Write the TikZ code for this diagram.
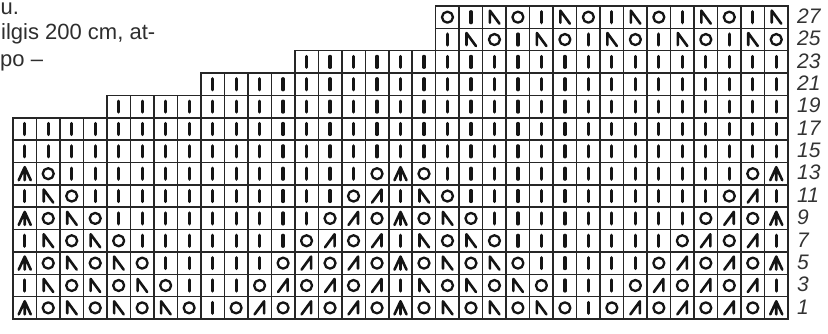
\documentclass[tikz,border=0pt]{standalone}
\usepackage{fontspec}
\setmainfont{Liberation Sans}
\def\cw{23.485}
\def\rh{22.36}
\tikzset{
  gridline/.style={line width=1.5pt, draw=black!85},
  sym/.style={line width=2.6pt, draw=black!92, line cap=round, line join=round},
  lab/.style={anchor=west, inner sep=0pt, font=\fontsize{21}{23}\selectfont\itshape, text=black!80},
  txt/.style={anchor=base west, inner sep=0pt, font=\fontsize{22}{26}\selectfont, text=black!82},
}
\newcommand\stitchK{\draw[sym, line width=3.2pt] (0,-5.5) -- (0,5.5);}
\newcommand\stitchO{\draw[sym, line width=2.3pt] (0,0) circle (5.5pt);}
\newcommand\stitchL{\draw[sym] (-4.5,5.5) -- (-4.5,-6.5) -- (5,6.5);}
\newcommand\stitchR{\draw[sym] (4.5,5.5) -- (4.5,-6.5) -- (-5,6.5);}
\newcommand\stitchC{\draw[sym] (-6,6.5) -- (0,-6.5) -- (6,6.5) (0,-6.5) -- (0,6.5);}
% #1 = row index from bottom (0..13), #2 = first column, #3 = stitch list
\newcommand\knitrow[3]{%
  \foreach \s [count=\i from #2] in {#3} {%
    \pgfmathsetmacro\xa{13+(\i-1)*\cw}%
    \pgfmathsetmacro\ya{6+(13-#1)*\rh}%
    \draw[gridline] (\xa,\ya) rectangle ++(\cw,\rh);%
    \begin{scope}[shift={(\xa+0.5*\cw,\ya+0.5*\rh)}]\csname stitch\s\endcsname\end{scope}%
  }%
}
% #1 = row index, #2 = first column, #3 = last column (all knit)
\newcommand\plainrow[3]{%
  \foreach \i in {#2,...,#3} {%
    \pgfmathsetmacro\xa{13+(\i-1)*\cw}%
    \pgfmathsetmacro\ya{6+(13-#1)*\rh}%
    \draw[gridline] (\xa,\ya) rectangle ++(\cw,\rh);%
    \begin{scope}[shift={(\xa+0.5*\cw,\ya+0.5*\rh)}]\stitchK\end{scope}%
  }%
}
\begin{document}
\begin{tikzpicture}[x=1pt,y=-1pt]
\useasboundingbox[fill=white] (0,0) rectangle (828,334);
% text fragment at top left
\node[txt, text height=11pt] (t1) at (0.5,14.5) {u.};
\node[txt] (t2) at (1,39.5) {ilgis 200 cm, at-};
\node[txt] (t3) at (0,67) {po –};
% chart rows
\knitrow{0}{1}{C,O,L,O,L,O,L,O,K,O,R,O,R,O,R,O,C,O,L,O,L,O,L,O,K,O,R,O,R,O,R,O,C}
\knitrow{1}{1}{K,L,O,L,O,L,O,K,K,K,O,R,O,R,O,R,K,L,O,L,O,L,O,K,K,K,O,R,O,R,O,R,K}
\knitrow{2}{1}{C,O,L,O,L,O,K,K,K,K,K,O,R,O,R,O,C,O,L,O,L,O,K,K,K,K,K,O,R,O,R,O,C}
\knitrow{3}{1}{K,L,O,L,O,K,K,K,K,K,K,K,O,R,O,R,K,L,O,L,O,K,K,K,K,K,K,K,O,R,O,R,K}
\knitrow{4}{1}{C,O,L,O,K,K,K,K,K,K,K,K,K,O,R,O,C,O,L,O,K,K,K,K,K,K,K,K,K,O,R,O,C}
\knitrow{5}{1}{K,L,O,K,K,K,K,K,K,K,K,K,K,K,O,R,K,L,O,K,K,K,K,K,K,K,K,K,K,K,O,R,K}
\knitrow{6}{1}{C,O,K,K,K,K,K,K,K,K,K,K,K,K,K,O,C,O,K,K,K,K,K,K,K,K,K,K,K,K,K,O,C}
\plainrow{7}{1}{33}
\plainrow{8}{1}{33}
\plainrow{9}{5}{33}
\plainrow{10}{9}{33}
\plainrow{11}{13}{33}
\knitrow{12}{19}{K,L,O,K,L,O,K,L,O,K,L,O,K,L,O}
\knitrow{13}{19}{O,K,L,O,K,L,O,K,L,O,K,L,O,K,L}
% row numbers
\foreach \n [count=\k from 0] in {1,3,5,7,9,11,13,15,17,19,21,23,25,27} {
  \pgfmathsetmacro\yc{6+(13-\k)*\rh+0.5*\rh-1}
  \node[lab] (r\n) at (797,\yc) {\n};
}
\end{tikzpicture}
\end{document}
